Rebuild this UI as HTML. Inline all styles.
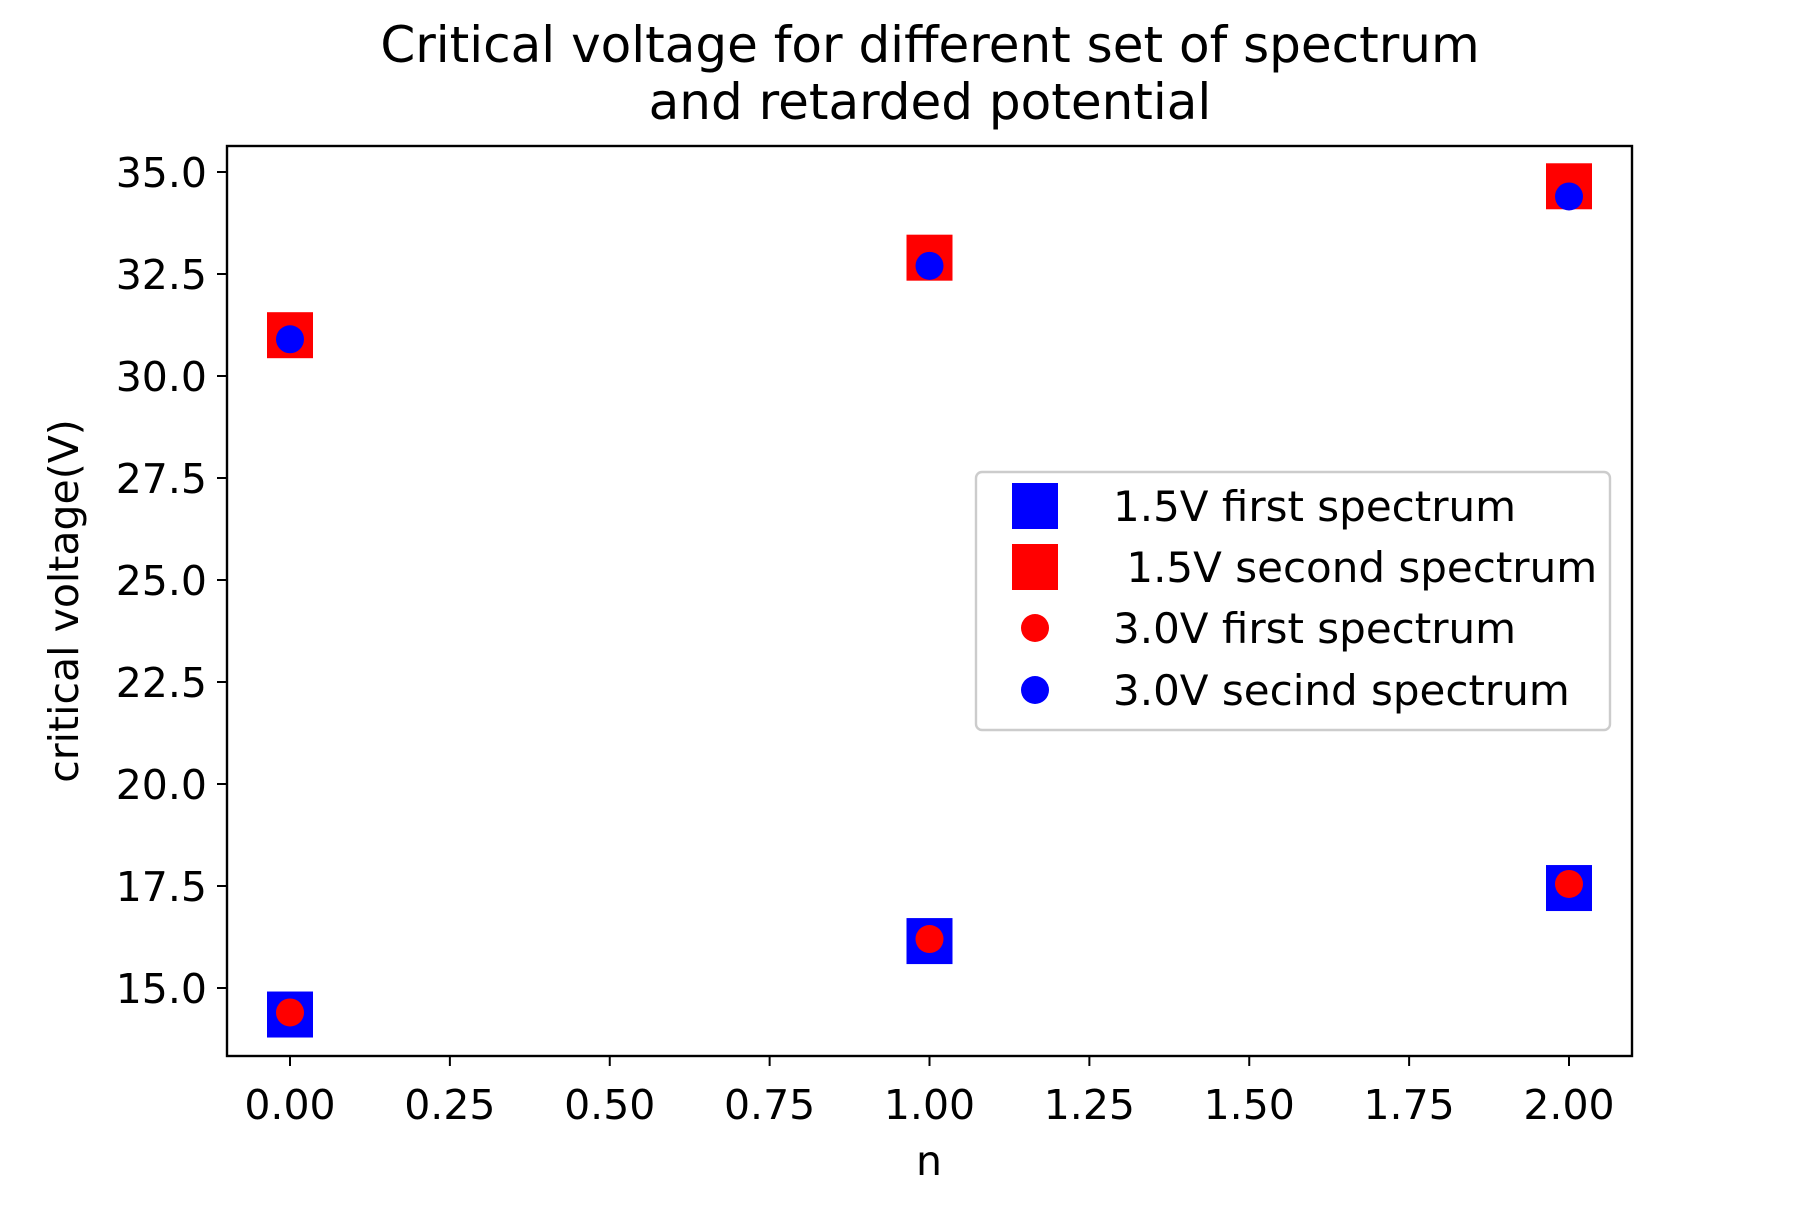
<!DOCTYPE html>
<html><head><meta charset="utf-8"><style>
html,body{margin:0;padding:0;background:#fff;}
svg text{font-family:"DejaVu Sans","Liberation Sans",sans-serif;fill:#000;}
</style></head><body>
<svg id="chart" width="1800" height="1200" viewBox="0 0 1800 1200" xmlns="http://www.w3.org/2000/svg">
<rect width="1800" height="1200" fill="#fff"/>
<text x="930" y="62" font-size="50" text-anchor="middle">Critical voltage for different set of spectrum</text>
<text x="930" y="119" font-size="50" text-anchor="middle">and retarded potential</text>
<g id="ticks"></g>
<g id="marks"></g>
<rect x="227" y="146" width="1405" height="910" fill="none" stroke="#000" stroke-width="2.4"/>
<text x="929" y="1175" font-size="41" text-anchor="middle">n</text>
<text transform="translate(78,601) rotate(-90)" font-size="41" text-anchor="middle">critical voltage(V)</text>
<g>
<rect x="976" y="472" width="634" height="258" rx="6" fill="#fff" fill-opacity="0.8" stroke="#ccc" stroke-width="2.4"/>
</g>
<g id="legend-items"></g>
</svg>
<script>
const ns="http://www.w3.org/2000/svg";
const nValues=[0,1,2];
const v15First=[14.35,16.15,17.45];
const v15Second=[31.0,32.9,34.65];
const v30First=[14.4,16.2,17.55];
const v30Second=[30.9,32.7,34.4];
const xTicks=[0,0.25,0.5,0.75,1,1.25,1.5,1.75,2];
const xTickLabels=["0.00","0.25","0.50","0.75","1.00","1.25","1.50","1.75","2.00"];
const yTicks=[15,17.5,20,22.5,25,27.5,30,32.5,35];
const yTickLabels=["15.0","17.5","20.0","22.5","25.0","27.5","30.0","32.5","35.0"];
const seriesNames=["1.5V first spectrum"," 1.5V second spectrum","3.0V first spectrum","3.0V secind spectrum"];

function X(v){return 290+(v-0)*(1569-290)/2;}
function Y(v){return 988-(v-15)*(988-172)/20;}
function mk(tag,attrs,parent){const e=document.createElementNS(ns,tag);for(const k in attrs)e.setAttribute(k,attrs[k]);parent.appendChild(e);return e;}
const ticks=document.getElementById('ticks');
xTicks.forEach((t,i)=>{
  const l=mk('line',{x1:X(t),x2:X(t),y1:1056,y2:1066,stroke:'#000','stroke-width':2},ticks);
  
  
  const tx=mk('text',{x:X(t),y:1119,'font-size':41,'text-anchor':'middle'},ticks);
  tx.textContent=xTickLabels[i];
  
  
});
yTicks.forEach((t,i)=>{
  const l=mk('line',{x1:217,x2:227,y1:Y(t),y2:Y(t),stroke:'#000','stroke-width':2},ticks);
  
  
  const tx=mk('text',{x:207,y:Y(t)+15,'font-size':41,'text-anchor':'end'},ticks);
  tx.textContent=yTickLabels[i];
  
  
});
const marks=document.getElementById('marks');
const S=46,R=14;
function sq(x,y,c,p){return mk('rect',{x:x-S/2,y:y-S/2,width:S,height:S,fill:c},p);}
function ci(x,y,c,p){return mk('circle',{cx:x,cy:y,r:R,fill:c},p);}
nValues.forEach((n,i)=>{
  const a=sq(X(n),Y(v15First[i]),'#0000ff',marks);
  
  
  const b=sq(X(n),Y(v15Second[i]),'#ff0000',marks);
  
  
  const c=ci(X(n),Y(v30First[i]),'#ff0000',marks);
  
  
  const d=ci(X(n),Y(v30Second[i]),'#0000ff',marks);
  
  
});
const li=document.getElementById('legend-items');
const ly=[506,567,628,690];
const lc=['#0000ff','#ff0000','#ff0000','#0000ff'];
seriesNames.forEach((s,i)=>{
  const m=i<2?sq(1035,ly[i],lc[i],li):ci(1035,ly[i],lc[i],li);
  
  
  const t=mk('text',{x:1113,y:ly[i]+15,'font-size':42},li);
  t.setAttribute('xml:space','preserve');
  t.style.whiteSpace='pre';
  t.textContent=s;
  
  
});
</script>
</body></html>
